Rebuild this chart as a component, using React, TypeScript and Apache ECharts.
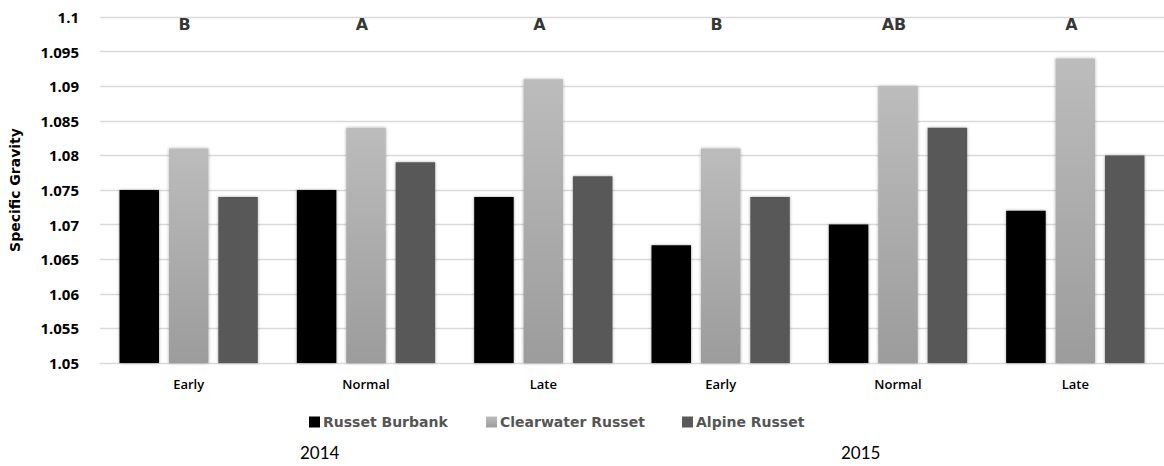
import React, { useEffect, useRef } from "react";
import * as echarts from "echarts";

const categories = ["Early", "Normal", "Late", "Early", "Normal", "Late"];
const seriesNames = ["Russet Burbank", "Clearwater Russet", "Alpine Russet"];
const russetBurbank = [1.075, 1.075, 1.074, 1.067, 1.07, 1.072];
const clearwaterRusset = [1.081, 1.084, 1.091, 1.081, 1.09, 1.094];
const alpineRusset = [1.074, 1.079, 1.077, 1.074, 1.084, 1.08];
const groupLetters = ["B", "A", "A", "B", "AB", "A"];
const letterLevel = 1.0989;
const years = ["2014", "2015"];

const fmt = (v: number) => String(parseFloat(v.toFixed(3)));

export default function App() {
  const ref = useRef<HTMLDivElement>(null);

  useEffect(() => {
    document.body.style.margin = "0";
    const chart = echarts.init(ref.current!, null, { renderer: "svg" });
    const barShadow = {
      shadowBlur: 3,
      shadowColor: "rgba(0,0,0,0.35)",
    };
    const legendLefts = [304, 481, 677];
    const legend = seriesNames.map((name, i) => ({
      data: [name],
      left: legendLefts[i],
      top: 410,
      icon: "rect",
      itemWidth: 11,
      itemHeight: 11,
      textStyle: {
        color: "#555555",
        fontFamily: "DejaVu Sans",
        fontWeight: "bold",
        fontSize: 14,
        padding: [0, 0, 0, -2],
      },
    }));
    chart.setOption({
      animation: false,
      backgroundColor: "#ffffff",
      grid: { left: 100, top: 17, width: 1077, bottom: 103, containLabel: false },
      legend,
      xAxis: {
        type: "category",
        data: categories,
        axisLine: { show: true, lineStyle: { color: "#d9d9d9" } },
        axisTick: { show: false },
        axisLabel: {
          color: "#000",
          fontFamily: "Open Sans",
          fontWeight: 600,
          fontSize: 13,
          margin: 14,
        },
      },
      yAxis: {
        type: "value",
        min: 1.05,
        max: 1.1,
        interval: 0.005,
        name: "Specific Gravity",
        nameLocation: "middle",
        nameRotate: 90,
        nameGap: 78,
        nameTextStyle: {
          color: "#000",
          fontFamily: "DejaVu Sans",
          fontWeight: "bold",
          fontSize: 14,
        },
        axisLine: { show: false },
        axisTick: { show: false },
        splitLine: { lineStyle: { color: "#d9d9d9", width: 1.3 } },
        axisLabel: {
          color: "#000",
          fontFamily: "Open Sans",
          fontWeight: "bold",
          fontSize: 15,
          margin: 21,
          formatter: (v: number) => fmt(v),
        },
      },
      series: [
        {
          name: seriesNames[0],
          type: "bar",
          data: russetBurbank,
          barGap: "25%",
          barCategoryGap: "22%",
          itemStyle: { color: "#000000", ...barShadow },
        },
        {
          name: seriesNames[1],
          type: "bar",
          data: clearwaterRusset,
          itemStyle: {
            color: new echarts.graphic.LinearGradient(0, 0, 0, 1, [
              { offset: 0, color: "#bcbcbc" },
              { offset: 1, color: "#9c9c9c" },
            ]),
            ...barShadow,
          },
        },
        {
          name: seriesNames[2],
          type: "bar",
          data: alpineRusset,
          itemStyle: { color: "#595959", ...barShadow },
        },
        {
          name: "letters",
          type: "scatter",
          symbolSize: 0,
          data: groupLetters.map(() => letterLevel),
          label: {
            show: true,
            position: "inside",
            offset: [-4, 0],
            formatter: (p: any) => groupLetters[p.dataIndex],
            color: "#000",
            fontFamily: "DejaVu Sans",
            fontWeight: 900,
            fontSize: 16,
          },
          tooltip: { show: false },
        },
      ],
      graphic: [
        {
          type: "text",
          left: 300,
          top: 444,
          style: {
            text: years[0],
            fill: "#000",
            font: "17px Lato",
          },
        },
        {
          type: "text",
          left: 841,
          top: 444,
          style: {
            text: years[1],
            fill: "#000",
            font: "17px Lato",
          },
        },
      ],
    });
    return () => chart.dispose();
  }, []);

  return <div ref={ref} style={{ width: 1164, height: 466 }} />;
}
